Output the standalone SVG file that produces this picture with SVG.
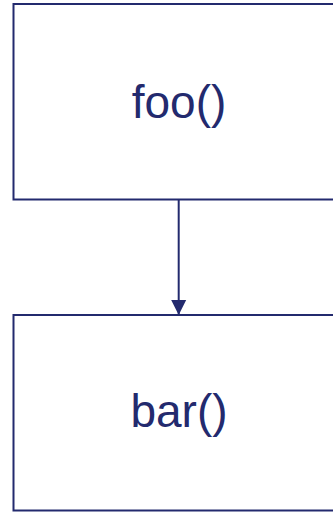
<svg xmlns="http://www.w3.org/2000/svg" width="333" height="512" viewBox="0 0 333 512">
  <defs>
    <style>
      .box { fill: #ffffff; stroke: #232a6e; stroke-width: 2; }
      .label { font-family: "Liberation Sans", Arial, sans-serif; font-size: 46px; fill: #232a6e; text-anchor: middle; }
      .edge { stroke: #232a6e; stroke-width: 2; fill: none; }
    </style>
    <marker id="arrow" markerWidth="16" markerHeight="16" refX="15" refY="8" orient="auto" markerUnits="userSpaceOnUse">
      <path d="M0,0.5 L15,8 L0,15.5 Z" fill="#232a6e"/>
    </marker>
  </defs>
  <rect width="333" height="512" fill="#ffffff"/>
  <g id="node-foo">
    <rect class="box" x="13.5" y="4" width="331" height="195.5"/>
    <text class="label" x="179" y="118">foo()</text>
  </g>
  <g id="node-bar">
    <rect class="box" x="13.5" y="315" width="331" height="195.5"/>
    <text class="label" x="179" y="427">bar()</text>
  </g>
  <g id="connectors">
    <line class="edge" x1="178.7" y1="199.5" x2="178.7" y2="315" marker-end="url(#arrow)"/>
  </g>
</svg>
